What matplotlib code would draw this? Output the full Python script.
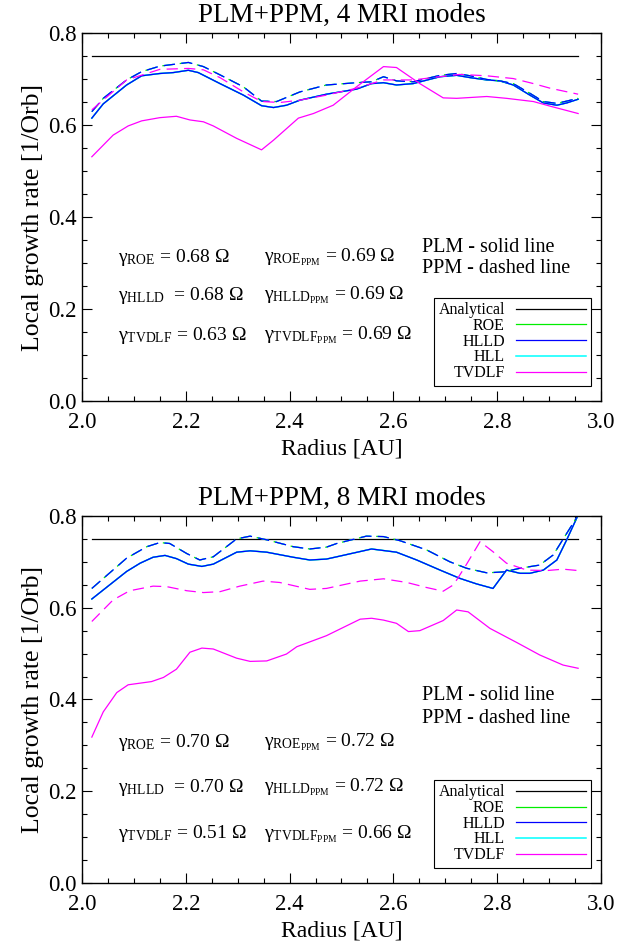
import numpy as np
import matplotlib.pyplot as plt
from matplotlib.ticker import MultipleLocator

plt.rcParams['font.family'] = ['Liberation Serif', 'DejaVu Serif']
plt.rcParams['mathtext.fontset'] = 'custom'
plt.rcParams['mathtext.rm'] = 'Liberation Serif'
plt.rcParams['mathtext.it'] = 'Liberation Serif:italic'
plt.rcParams['mathtext.bf'] = 'Liberation Serif:bold'

# analytical growth rate (1/Orb) over the sampled radii
analytic_r = [2.019, 2.956]
analytic_rate = 0.75

# ---- 4 MRI modes ----
r_mhd_plm_4 = [2.019, 2.041, 2.086, 2.115, 2.150, 2.176, 2.205, 2.224, 2.266, 2.311,
               2.346, 2.369, 2.394, 2.420, 2.471, 2.529, 2.558, 2.581, 2.606, 2.638,
               2.690, 2.722, 2.748, 2.780, 2.805, 2.831, 2.863, 2.889, 2.915, 2.934, 2.956]
mhd_plm_4 = [0.615, 0.646, 0.687, 0.707, 0.712, 0.714, 0.719, 0.714, 0.690, 0.665,
             0.642, 0.638, 0.643, 0.654, 0.667, 0.678, 0.690, 0.692, 0.687, 0.690,
             0.705, 0.708, 0.703, 0.698, 0.696, 0.687, 0.665, 0.648, 0.643, 0.648, 0.656]

r_mhd_ppm_4 = [2.019, 2.041, 2.086, 2.115, 2.150, 2.205, 2.234, 2.266, 2.311, 2.346,
               2.375, 2.420, 2.471, 2.529, 2.558, 2.581, 2.606, 2.638, 2.690, 2.722,
               2.748, 2.780, 2.805, 2.831, 2.863, 2.889, 2.915, 2.934, 2.956]
mhd_ppm_4 = [0.629, 0.658, 0.698, 0.716, 0.728, 0.736, 0.727, 0.709, 0.683, 0.652,
             0.651, 0.672, 0.687, 0.692, 0.694, 0.705, 0.696, 0.694, 0.708, 0.712,
             0.707, 0.699, 0.696, 0.690, 0.669, 0.651, 0.647, 0.652, 0.658]

r_tvd_plm_4 = [2.019, 2.060, 2.089, 2.115, 2.150, 2.182, 2.208, 2.234, 2.253, 2.298,
               2.346, 2.369, 2.417, 2.446, 2.484, 2.529, 2.555, 2.581, 2.606, 2.651,
               2.696, 2.722, 2.780, 2.818, 2.870, 2.902, 2.956]
tvd_plm_4 = [0.531, 0.578, 0.598, 0.609, 0.616, 0.619, 0.611, 0.607, 0.598, 0.571,
             0.546, 0.567, 0.615, 0.625, 0.643, 0.683, 0.705, 0.727, 0.725, 0.690,
             0.659, 0.658, 0.662, 0.658, 0.651, 0.641, 0.625]

r_tvd_ppm_4 = [2.019, 2.086, 2.150, 2.205, 2.234, 2.266, 2.311, 2.346, 2.382, 2.420,
               2.471, 2.529, 2.581, 2.638, 2.690, 2.728, 2.780, 2.831, 2.870, 2.902, 2.956]
tvd_ppm_4 = [0.633, 0.698, 0.721, 0.723, 0.720, 0.703, 0.672, 0.651, 0.649, 0.654,
             0.665, 0.680, 0.698, 0.698, 0.705, 0.710, 0.707, 0.701, 0.690, 0.680, 0.667]

# ---- 8 MRI modes ----
r_mhd_plm_8 = [2.019, 2.086, 2.112, 2.137, 2.160, 2.182, 2.205, 2.231, 2.253, 2.279,
               2.298, 2.324, 2.356, 2.407, 2.439, 2.471, 2.491, 2.558, 2.606, 2.645,
               2.690, 2.728, 2.760, 2.792, 2.818, 2.844, 2.863, 2.889, 2.915, 2.934, 2.956]
mhd_plm_8 = [0.619, 0.679, 0.697, 0.710, 0.714, 0.707, 0.695, 0.690, 0.695, 0.710,
             0.721, 0.724, 0.721, 0.710, 0.704, 0.706, 0.711, 0.728, 0.721, 0.704,
             0.682, 0.664, 0.652, 0.642, 0.682, 0.675, 0.675, 0.682, 0.704, 0.748, 0.802]

r_mhd_ppm_8 = [2.019, 2.086, 2.125, 2.150, 2.169, 2.202, 2.227, 2.253, 2.298, 2.324,
               2.356, 2.407, 2.439, 2.471, 2.491, 2.548, 2.581, 2.613, 2.664, 2.709,
               2.741, 2.780, 2.812, 2.844, 2.882, 2.908, 2.934, 2.954]
mhd_ppm_8 = [0.642, 0.708, 0.733, 0.742, 0.740, 0.718, 0.704, 0.711, 0.750, 0.756,
             0.748, 0.733, 0.728, 0.732, 0.740, 0.756, 0.755, 0.746, 0.726, 0.700,
             0.686, 0.676, 0.678, 0.686, 0.693, 0.715, 0.762, 0.798]

r_tvd_plm_8 = [2.019, 2.041, 2.067, 2.089, 2.134, 2.157, 2.182, 2.208, 2.231, 2.253,
               2.298, 2.324, 2.356, 2.394, 2.414, 2.471, 2.536, 2.558, 2.581, 2.606,
               2.629, 2.651, 2.696, 2.722, 2.744, 2.786, 2.838, 2.882, 2.927, 2.956]
tvd_plm_8 = [0.318, 0.373, 0.415, 0.432, 0.439, 0.448, 0.466, 0.503, 0.512, 0.510,
             0.490, 0.483, 0.484, 0.499, 0.515, 0.539, 0.575, 0.577, 0.573, 0.566,
             0.548, 0.550, 0.572, 0.595, 0.591, 0.555, 0.524, 0.497, 0.475, 0.468]

r_tvd_ppm_8 = [2.019, 2.060, 2.092, 2.137, 2.163, 2.202, 2.234, 2.266, 2.304, 2.349,
               2.381, 2.439, 2.471, 2.536, 2.581, 2.626, 2.664, 2.696, 2.716, 2.738,
               2.767, 2.792, 2.818, 2.857, 2.896, 2.927, 2.956]
tvd_ppm_8 = [0.570, 0.617, 0.637, 0.647, 0.646, 0.637, 0.633, 0.635, 0.647, 0.658,
             0.655, 0.640, 0.642, 0.658, 0.663, 0.655, 0.644, 0.636, 0.650, 0.689,
             0.744, 0.722, 0.697, 0.682, 0.681, 0.684, 0.681]

# mean growth rates (in units of Omega) for ROE, HLLD, TVDLF
gamma_schemes = ['ROE', 'HLLD', 'TVDLF']
gamma_plm_4 = [0.68, 0.68, 0.63]
gamma_ppm_4 = [0.69, 0.69, 0.69]
gamma_plm_8 = [0.70, 0.70, 0.51]
gamma_ppm_8 = [0.72, 0.72, 0.66]

legend_names = ['Analytical', 'ROE', 'HLLD', 'HLL', 'TVDLF']
colors = {'Analytical': 'black', 'ROE': '#00ee00', 'HLLD': 'blue',
          'HLL': 'cyan', 'TVDLF': 'magenta'}

LW = 0.9
DASH = (0, (9, 5))


def draw_panel(ax, title, mhd_plm, mhd_ppm, tvd_plm, tvd_ppm,
               gam_plm, gam_ppm, gamma_y, note_y):
    handles = {}
    handles['Analytical'], = ax.plot(analytic_r, [analytic_rate] * 2,
                                     color=colors['Analytical'], lw=LW)

    # ROE, HLL and HLLD sit on top of one another
    r, v = mhd_plm
    handles['ROE'], = ax.plot(r, v, color=colors['ROE'], lw=LW)
    handles['HLL'], = ax.plot(r, v, color=colors['HLL'], lw=LW + 0.2)
    handles['HLLD'], = ax.plot(r, v, color=colors['HLLD'], lw=LW)
    r, v = mhd_ppm
    ax.plot(r, v, color=colors['ROE'], lw=LW, ls=(1.2, (9, 5)))
    ax.plot(r, v, color=colors['HLL'], lw=LW, ls=DASH)
    ax.plot(r, v, color=colors['HLLD'], lw=LW, ls=DASH)

    r, v = tvd_plm
    handles['TVDLF'], = ax.plot(r, v, color=colors['TVDLF'], lw=LW)
    r, v = tvd_ppm
    ax.plot(r, v, color=colors['TVDLF'], lw=LW, ls=DASH)

    ax.set_xlim(2.0, 3.0)
    ax.set_ylim(0.0, 0.8)
    ax.xaxis.set_major_locator(MultipleLocator(0.2))
    ax.xaxis.set_minor_locator(MultipleLocator(0.05))
    ax.yaxis.set_major_locator(MultipleLocator(0.2))
    ax.yaxis.set_minor_locator(MultipleLocator(0.05))
    ax.xaxis.set_major_formatter(plt.FormatStrFormatter('%.1f'))
    ax.yaxis.set_major_formatter(plt.FormatStrFormatter('%.1f'))
    ax.tick_params(which='both', direction='in', top=True, right=True,
                   labelsize=16.5, width=0.8)
    ax.tick_params(which='major', length=7)
    ax.tick_params(which='minor', length=3.5)
    ax.tick_params(axis='x', pad=8)
    ax.tick_params(axis='y', pad=4)
    for s in ax.spines.values():
        s.set_linewidth(1.0)

    ax.set_title(title, fontsize=19.5, pad=8)
    ax.set_xlabel('Radius [AU]', fontsize=17, labelpad=4)
    ax.set_ylabel('Local growth rate [1/Orb]', fontsize=18.5, labelpad=3)

    for i, name in enumerate(gamma_schemes):
        pad = '  ' if name == 'HLLD' else ' '
        ax.text(2.069, gamma_y[i],
                r'$\mathrm{\gamma_{%s}}$%s= %.2f Ω' % (name, pad, gam_plm[i]),
                fontsize=14, va='baseline')
        ax.text(2.350, gamma_y[i],
                r'$\mathrm{\gamma_{%s_{PPM}}}$ = %.2f Ω' % (name, gam_ppm[i]),
                fontsize=14, va='baseline')

    ax.text(2.655, note_y[0], 'PLM - solid line', fontsize=14.5, va='baseline')
    ax.text(2.655, note_y[1], 'PPM - dashed line', fontsize=14.5, va='baseline')

    leg = ax.legend([handles[n] for n in legend_names], legend_names,
                    loc='lower right', bbox_to_anchor=(0.981, 0.041),
                    borderaxespad=0, fontsize=11.5, markerfirst=False,
                    handlelength=4.4, handletextpad=0.7, labelspacing=-0.02,
                    borderpad=0.3, fancybox=False, framealpha=1,
                    edgecolor='black')
    leg.get_frame().set_linewidth(0.8)
    for col in leg._legend_handle_box.get_children():
        col.align = 'right'


fig = plt.figure(figsize=(6.36, 9.46), dpi=100)
ax_top = fig.add_axes([0.1289, 0.5761, 0.816, 0.389])
ax_bot = fig.add_axes([0.1289, 0.0666, 0.816, 0.388])

draw_panel(ax_top, 'PLM+PPM, 4 MRI modes',
           (r_mhd_plm_4, mhd_plm_4), (r_mhd_ppm_4, mhd_ppm_4),
           (r_tvd_plm_4, tvd_plm_4), (r_tvd_ppm_4, tvd_ppm_4),
           gamma_plm_4, gamma_ppm_4,
           gamma_y=[0.303, 0.220, 0.133], note_y=[0.324, 0.278])
draw_panel(ax_bot, 'PLM+PPM, 8 MRI modes',
           (r_mhd_plm_8, mhd_plm_8), (r_mhd_ppm_8, mhd_ppm_8),
           (r_tvd_plm_8, tvd_plm_8), (r_tvd_ppm_8, tvd_ppm_8),
           gamma_plm_8, gamma_ppm_8,
           gamma_y=[0.297, 0.199, 0.097], note_y=[0.399, 0.349])

fig.savefig('out.png', dpi=100)
